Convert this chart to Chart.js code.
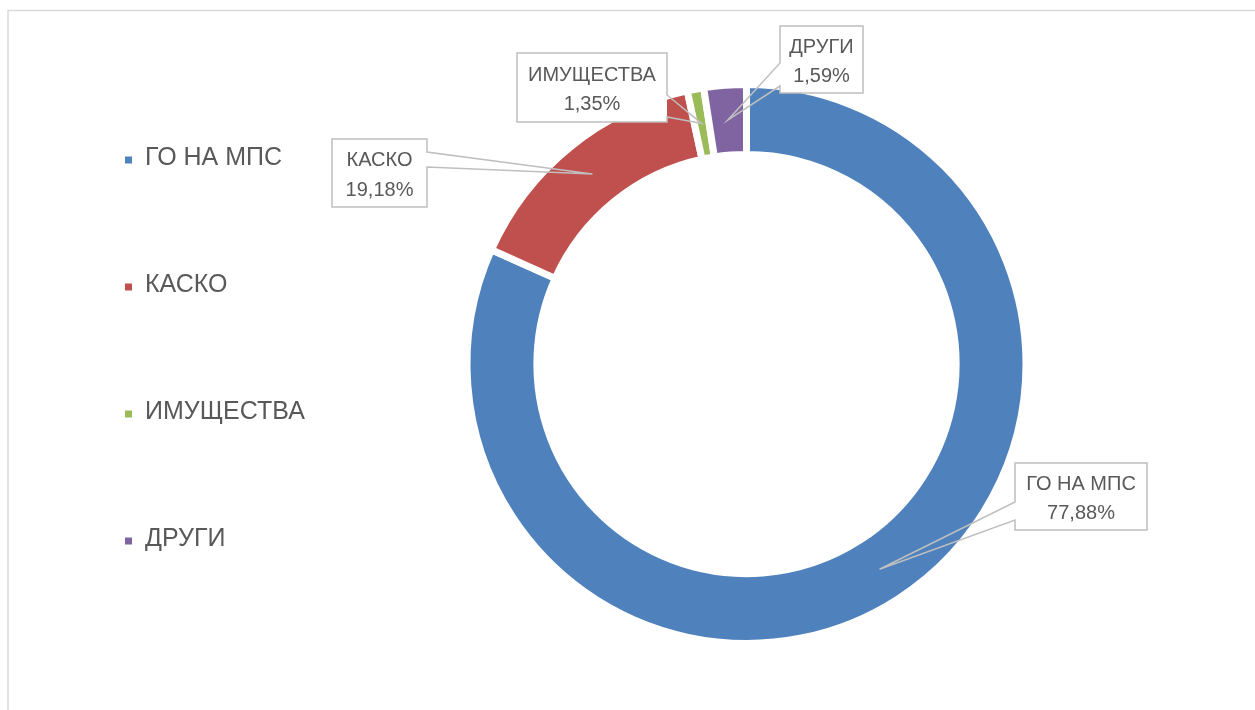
<!DOCTYPE html>
<html><head><meta charset="utf-8">
<script src="https://cdn.jsdelivr.net/npm/chart.js@4.4.0/dist/chart.umd.min.js"></script>
<style>html,body{margin:0;padding:0;background:#fff;}#wrap{position:relative;width:1255px;height:710px;}</style>
</head><body><div id="wrap"><canvas id="c" width="1255" height="710"></canvas></div>
<script>
// ---- data ----
const categories = ['ГО НА МПС', 'КАСКО', 'ИМУЩЕСТВА', 'ДРУГИ'];
// slice sizes as drawn in the picture (angular share, %)
const sliceValues = [81.7, 14.9, 0.95, 2.45];
// percentages printed in the data labels
const labelPercents = [77.88, 19.18, 1.35, 1.59];
const sliceColors = ['#4F81BD', '#C0504D', '#9BBB59', '#8064A2'];

// ---- layout (label boxes / legend) ----
const TEXT = '#595959';
const FONT = '"Liberation Sans", Arial, sans-serif';
const calloutBoxes = [
  {x: 1015, y: 463, w: 132, h: 67, side: 'left',  b1: 502, b2: 520},
  {x: 332,  y: 139, w: 95,  h: 68, side: 'right', b1: 152, b2: 167},
  {x: 517,  y: 53,  w: 150, h: 69, side: 'right', b1: 95,  b2: 117},
  {x: 780,  y: 26,  w: 83,  h: 67, side: 'left',  b1: 63,  b2: 86}
];
const legendLayout = {markerX: 125, textX: 145, y0: 158, step: 127, box: 7, size: 25};

const fmt = v => v.toFixed(2).replace('.', ',') + '%';

const framePlugin = {
  id: 'frame',
  beforeDraw(chart) {
    const c = chart.ctx;
    c.save();
    c.strokeStyle = '#d9d9d9';
    c.lineWidth = 1.5;
    c.beginPath();
    c.moveTo(8, 712); c.lineTo(8, 10.5); c.lineTo(1260, 10.5);
    c.stroke();
    c.restore();
  }
};

const legendPlugin = {
  id: 'sideLegend',
  afterDraw(chart) {
    const c = chart.ctx, L = legendLayout;
    const ds = chart.data.datasets[0];
    c.save();
    c.font = L.size + 'px ' + FONT;
    c.textBaseline = 'middle';
    c.textAlign = 'left';
    chart.data.labels.forEach((lab, i) => {
      const y = L.y0 + i * L.step;
      c.fillStyle = ds.backgroundColor[i];
      c.fillRect(L.markerX, y - L.box / 2 + 2, L.box, L.box);
      c.fillStyle = TEXT;
      c.fillText(lab, L.textX, y);
    });
    c.restore();
  }
};

const calloutPlugin = {
  id: 'callouts',
  afterDatasetsDraw(chart) {
    const c = chart.ctx;
    const meta = chart.getDatasetMeta(0);
    c.save();
    meta.data.forEach((arc, i) => {
      const b = calloutBoxes[i];
      const tip = arc.getCenterPoint();
      c.fillStyle = '#fff';
      c.fillRect(b.x, b.y, b.w, b.h);
      c.beginPath();
      if (b.side === 'left') {
        c.moveTo(b.x, b.y);
        c.lineTo(b.x + b.w, b.y);
        c.lineTo(b.x + b.w, b.y + b.h);
        c.lineTo(b.x, b.y + b.h);
        c.lineTo(b.x, b.b2);
        c.lineTo(tip.x, tip.y);
        c.lineTo(b.x, b.b1);
        c.closePath();
      } else {
        const r = b.x + b.w;
        c.moveTo(r, b.y);
        c.lineTo(b.x, b.y);
        c.lineTo(b.x, b.y + b.h);
        c.lineTo(r, b.y + b.h);
        c.lineTo(r, b.b2);
        c.lineTo(tip.x, tip.y);
        c.lineTo(r, b.b1);
        c.closePath();
      }
      c.strokeStyle = '#bfbfbf';
      c.lineWidth = 1.5;
      c.stroke();
      c.fillStyle = TEXT;
      c.font = '20px ' + FONT;
      c.textAlign = 'center';
      c.textBaseline = 'middle';
      const cx = b.x + b.w / 2;
      c.fillText(chart.data.labels[i], cx, b.y + b.h / 2 - 12.5);
      c.fillText(fmt(labelPercents[i]), cx, b.y + b.h / 2 + 17);
    });
    c.restore();
  }
};

new Chart(document.getElementById('c'), {
  type: 'doughnut',
  data: {
    labels: categories,
    datasets: [{
      data: sliceValues,
      backgroundColor: sliceColors,
      borderColor: '#ffffff',
      borderWidth: 7,
      hoverBorderWidth: 7
    }]
  },
  options: {
    responsive: false,
    devicePixelRatio: 1,
    animation: false,
    cutout: '75%',
    layout: {padding: {left: 463.5, right: 225.5, top: 81, bottom: 63}},
    plugins: {legend: {display: false}, tooltip: {enabled: false}}
  },
  plugins: [framePlugin, calloutPlugin, legendPlugin]
});
</script>
</body></html>
